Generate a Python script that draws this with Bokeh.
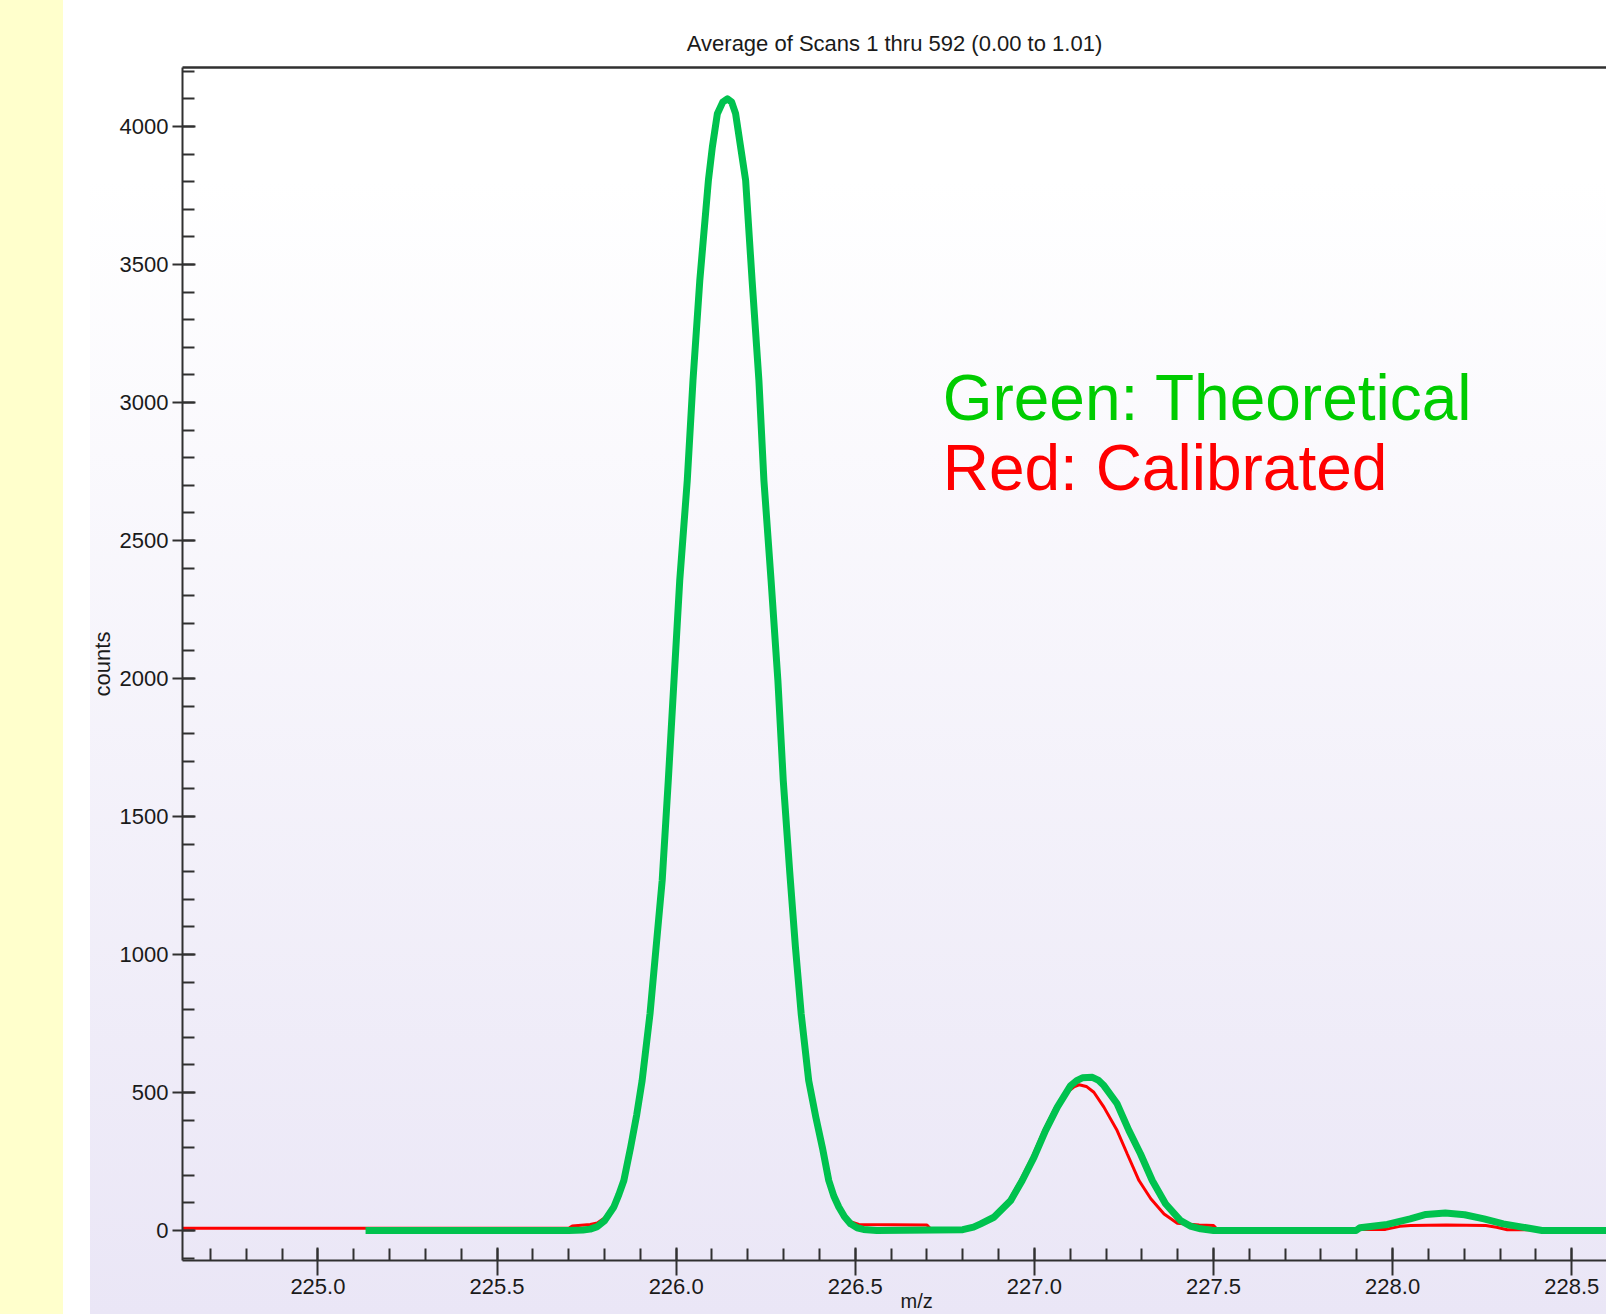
from bokeh.plotting import figure
from bokeh.models import (Range1d, LinearAxis, SingleIntervalTicker, FixedTicker,
                          PrintfTickFormatter, Label)
from bokeh.embed import file_html
from bokeh.resources import INLINE

# ---- data ----
green_mz = [225.133, 225.70, 225.74, 225.76, 225.78, 225.80, 225.826, 225.84, 225.854, 225.873,
            225.89, 225.905, 225.927, 225.944, 225.961, 225.978, 225.994, 226.010, 226.031, 226.047,
            226.066, 226.090, 226.101, 226.115, 226.13, 226.143, 226.155, 226.166, 226.180, 226.194,
            226.212, 226.231, 226.245, 226.265, 226.284, 226.299, 226.317, 226.333, 226.349, 226.370,
            226.39, 226.408, 226.426, 226.44, 226.454, 226.47, 226.487, 226.505, 226.523, 226.56,
            226.80, 226.83, 226.850, 226.887, 226.934, 226.966, 226.999, 227.031, 227.064, 227.101,
            227.118, 227.134, 227.162, 227.178, 227.194, 227.231, 227.264, 227.296, 227.329, 227.366,
            227.408, 227.435, 227.464, 227.50, 227.898, 227.909, 227.985, 228.049, 228.093, 228.147,
            228.201, 228.255, 228.309, 228.373, 228.417, 228.70]
green_counts = [0, 0, 2, 5, 14, 35, 85, 130, 181, 302,
                420, 543, 785, 1026, 1268, 1630, 1993, 2355, 2717, 3080,
                3442, 3804, 3925, 4046, 4088, 4100, 4088, 4046, 3925, 3804,
                3442, 3080, 2717, 2355, 1993, 1630, 1300, 1026, 785, 543,
                410, 302, 181, 125, 85, 50, 24, 10, 4, 0,
                3, 12, 24, 48, 109, 181, 266, 362, 447, 525,
                543, 553, 555, 545, 525, 459, 362, 278, 181, 97,
                36, 16, 6, 0, 0, 10, 22, 42, 58, 63,
                57, 42, 24, 10, 0, 0]

red_mz = [224.60, 225.70, 225.71, 225.76, 225.78, 225.80, 225.826, 225.84, 225.854, 225.873,
          225.89, 225.905, 225.927, 225.944, 225.961, 225.978, 225.994, 226.010, 226.031, 226.047,
          226.066, 226.090, 226.101, 226.115, 226.13, 226.143, 226.155, 226.166, 226.180, 226.194,
          226.212, 226.231, 226.245, 226.265, 226.284, 226.299, 226.317, 226.333, 226.349, 226.370,
          226.39, 226.408, 226.426, 226.44, 226.454, 226.47, 226.48, 226.51, 226.70, 226.71,
          226.80, 226.825, 226.845, 226.882, 226.929, 226.961, 226.994, 227.026, 227.059, 227.096,
          227.11, 227.125, 227.145, 227.166, 227.194, 227.231, 227.259, 227.292, 227.325, 227.362,
          227.399, 227.46, 227.50, 227.51, 227.98, 228.02, 228.05, 228.15, 228.26, 228.29,
          228.32, 228.70]
red_counts = [8, 8, 16, 22, 27, 45, 92, 136, 181, 302,
              420, 543, 785, 1026, 1268, 1630, 1993, 2355, 2717, 3080,
              3442, 3804, 3925, 4046, 4088, 4100, 4088, 4046, 3925, 3804,
              3442, 3080, 2717, 2355, 1993, 1630, 1300, 1026, 785, 543,
              410, 302, 181, 130, 90, 55, 35, 22, 20, 6,
              4, 12, 24, 48, 109, 181, 266, 362, 447, 505,
              520, 528, 522, 501, 447, 362, 278, 181, 115, 60,
              26, 20, 18, 4, 4, 15, 18, 20, 18, 12,
              3, 3]

title_text = "Average of Scans 1 thru 592 (0.00 to 1.01)"
y_label = "counts"
x_label = "m/z"
legend_lines = ["Green: Theoretical", "Red: Calibrated"]

SANS = "Liberation Sans"
AX = "#303030"

bg = ("linear-gradient(#FFFFCC,#FFFFCC) 0 0 / 63px 100% no-repeat, "
      "linear-gradient(to bottom, #FFFFFF, #EAE6F6) 90px 180px / calc(100% - 90px) calc(100% - 180px) no-repeat, "
      "#FFFFFF")

p = figure(width=1606, height=1314, output_backend="svg", toolbar_location=None,
           x_range=Range1d(224.622, 228.597), y_range=Range1d(-108.7, 4213.5),
           x_axis_type=None, y_axis_type=None,
           min_border_left=182, min_border_right=0, min_border_top=67, min_border_bottom=54,
           styles={"background": bg})
p.border_fill_color = None
p.background_fill_color = None
p.outline_line_color = None
p.xgrid.visible = False
p.ygrid.visible = False

p.title.text = title_text
p.title.align = "center"
p.title.offset = -4
p.title.text_font = SANS
p.title.text_font_size = "22px"
p.title.text_font_style = "normal"
p.title.text_color = "#1a1a1a"
p.title.standoff = 23

def style_axis(ax):
    ax.axis_line_color = AX
    ax.axis_line_width = 2
    ax.major_tick_line_color = AX
    ax.major_tick_line_width = 2
    ax.minor_tick_line_color = AX
    ax.minor_tick_line_width = 2
    ax.major_label_text_font = SANS
    ax.major_label_text_font_size = "22px"
    ax.major_label_text_color = "#1a1a1a"

# the x-axis title sits a little right of the frame centre in the reference
xaxis = LinearAxis(ticker=SingleIntervalTicker(interval=0.5, num_minor_ticks=5),
                   formatter=PrintfTickFormatter(format="%.1f"),
                   axis_label="\u00a0" * 8 + x_label)
style_axis(xaxis)
xaxis.major_tick_in = 13
xaxis.major_tick_out = 15
xaxis.minor_tick_in = 12
xaxis.minor_tick_out = 0
xaxis.major_label_standoff = 3
xaxis.axis_label_standoff = -7
xaxis.axis_label_text_font = SANS
xaxis.axis_label_text_font_size = "20px"
xaxis.axis_label_text_font_style = "normal"
xaxis.axis_label_text_color = "#1a1a1a"
p.add_layout(xaxis, "below")

yaxis = LinearAxis(ticker=SingleIntervalTicker(interval=500, num_minor_ticks=5),
                   formatter=PrintfTickFormatter(format="%d"),
                   axis_label=y_label)
style_axis(yaxis)
yaxis.major_tick_in = 13
yaxis.major_tick_out = 10
yaxis.minor_tick_in = 12
yaxis.minor_tick_out = 0
yaxis.major_label_standoff = 4
yaxis.axis_label_standoff = 2
yaxis.axis_label_text_font = SANS
yaxis.axis_label_text_font_size = "22px"
yaxis.axis_label_text_font_style = "normal"
yaxis.axis_label_text_color = "#1a1a1a"
p.add_layout(yaxis, "left")

top_axis = LinearAxis(ticker=FixedTicker(ticks=[]))
top_axis.axis_line_color = AX
top_axis.axis_line_width = 2.5
top_axis.major_tick_out = 0
top_axis.major_tick_in = 0
top_axis.minor_tick_out = 0
top_axis.minor_tick_in = 0
top_axis.major_label_standoff = 0
p.add_layout(top_axis, "above")

p.line(red_mz, red_counts, line_color="#FF0000", line_width=3)
p.line(green_mz, green_counts, line_color="#00C24E", line_width=7, line_join="round")

p.add_layout(Label(x=226.744, y=3015, text=legend_lines[0], text_baseline="alphabetic",
                   text_font=SANS, text_font_size="64px", text_color="#00CC00"))
p.add_layout(Label(x=226.744, y=2763, text=legend_lines[1], text_baseline="alphabetic",
                   text_font=SANS, text_font_size="64px", text_color="#FF0000"))

open("out.html", "w").write(file_html(p, INLINE))
